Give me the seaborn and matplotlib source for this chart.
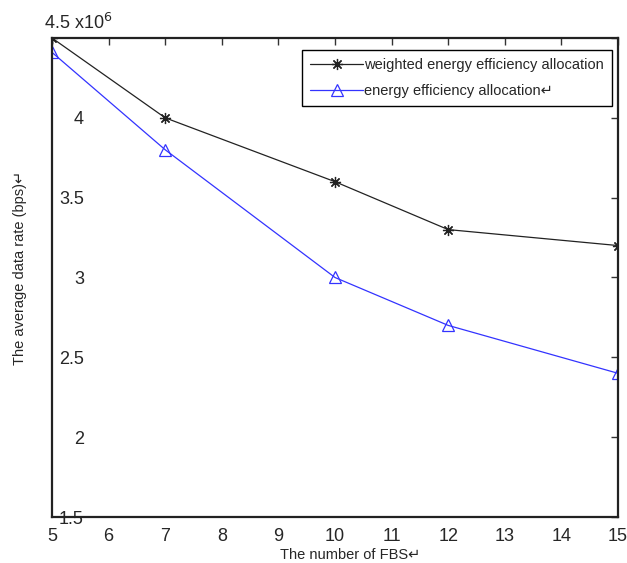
import matplotlib
matplotlib.use("Agg")
import matplotlib.pyplot as plt
import seaborn as sns
import pandas as pd

fbs = [5, 7, 10, 12, 15]
weighted = [4.50e6, 4.00e6, 3.60e6, 3.30e6, 3.20e6]
plain = [4.41e6, 3.80e6, 3.00e6, 2.70e6, 2.40e6]
xticks = list(range(5, 16))
yticks = [1.5e6, 2.0e6, 2.5e6, 3.0e6, 3.5e6, 4.0e6, 4.5e6]
ylabels = ['1.5', '2', '2.5', '3', '3.5', '4', '']
name_w = 'weighted energy efficiency allocation'
name_p = 'energy efficiency allocation\u21b5'

sns.set_style('white')
plt.rcParams['font.family'] = ['Liberation Sans', 'DejaVu Sans']

fig = plt.figure(figsize=(6.27, 5.63), dpi=100)
ax = fig.add_axes([52/627, 46/563, 566/627, 479/563])

df_w = pd.DataFrame({'x': fbs, 'y': weighted})
df_p = pd.DataFrame({'x': fbs, 'y': plain})
sns.lineplot(data=df_w, x='x', y='y', ax=ax, color='#222222', lw=0.9,
             marker=(8, 2, 0), markersize=8, mec='#222222', mew=0.9, label=name_w)
sns.lineplot(data=df_p, x='x', y='y', ax=ax, color='#3333ff', lw=0.9,
             marker='^', markersize=9, mec='#3333ff', mfc='none', mew=0.9, label=name_p)

ax.set_xlim(5, 15)
ax.set_ylim(1.5e6, 4.5e6)
ax.set_xticks(xticks)
ax.set_xticklabels([str(t) for t in xticks], fontsize=13)
ax.set_yticks(yticks)
ax.set_yticklabels(ylabels, fontsize=13)
ax.tick_params(axis='both', direction='in', length=5, width=1, color='#333333',
               top=True, right=True)
ax.tick_params(axis='y', pad=-23)
ax.tick_params(axis='x', pad=8)
for lab in ax.get_yticklabels():
    lab.set_horizontalalignment('right')
for s in ax.spines.values():
    s.set_linewidth(1.6)
    s.set_color('#222222')

ax.set_xlabel('The number of FBS\u21b5', fontsize=10.5)
ax.xaxis.set_label_coords((350 - 52) / 566, -(555 - 517) / 479)
ax.xaxis.label.set_va('center')
ax.set_ylabel('The average data rate (bps)\u21b5', fontsize=10.5)
ax.yaxis.set_label_coords((20 - 52) / 566, (517 - 268) / 479)
ax.yaxis.label.set_va('center')

fig.text(44/627, 1 - 29/563, '4.5 x10$^{6}$', fontsize=13, ha='left', va='baseline')

leg = ax.legend(loc='upper right', bbox_to_anchor=(1 - 6/566, 1 - 12/479), frameon=True,
                fancybox=False, framealpha=1, edgecolor='black', fontsize=10.5,
                handlelength=3.6, borderpad=0.55, labelspacing=0.8, handletextpad=0.1,
                borderaxespad=0)
leg.get_frame().set_linewidth(1.0)

fig.savefig('out.png', dpi=100)
